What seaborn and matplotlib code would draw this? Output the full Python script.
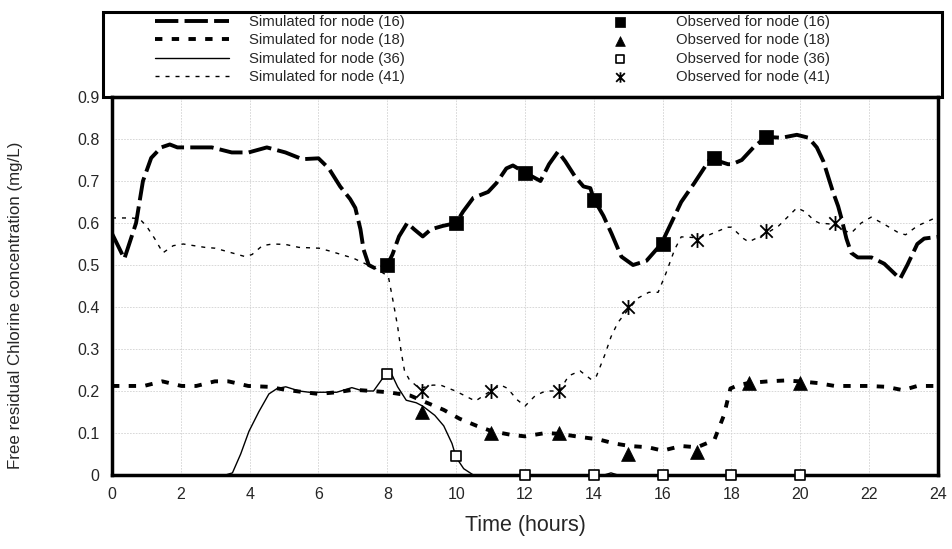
import numpy as np
import pandas as pd
import seaborn as sns
import matplotlib.pyplot as plt
from matplotlib.patches import Rectangle
from matplotlib.path import Path

# ---------------- data ----------------
sim16_t = [0, 0.36, 0.7, 0.9, 1.14, 1.43, 1.68, 1.9, 2.9, 3.48, 3.97, 4.5, 5.04, 5.53, 6.0,
           6.3, 6.63, 6.92, 7.07, 7.22, 7.31, 7.46, 7.7, 8.0, 8.15, 8.34, 8.58, 8.78, 9.03,
           9.27, 9.61, 10.0, 10.2, 10.5, 10.93, 11.17, 11.46, 11.65, 12.0, 12.45, 12.7,
           12.96, 13.17, 13.46, 13.7, 13.9, 14.0, 14.28, 14.52, 14.8, 15.14, 15.53, 15.96,
           16.25, 16.54, 16.92, 17.36, 17.45, 17.9, 18.02, 18.3, 18.64, 19.0, 19.46, 19.9,
           20.24, 20.48, 20.67, 20.8, 20.95, 21.1, 21.2, 21.34, 21.48, 21.67, 22.07, 22.44,
           22.9, 23.11, 23.4, 23.6, 24.0]
sim16_v = [0.575, 0.515, 0.60, 0.70, 0.755, 0.78, 0.787, 0.78, 0.78, 0.768, 0.768, 0.78, 0.768,
           0.752, 0.754, 0.73, 0.687, 0.657, 0.636, 0.585, 0.537, 0.50, 0.49, 0.50, 0.525,
           0.568, 0.60, 0.585, 0.568, 0.585, 0.593, 0.60, 0.627, 0.66, 0.674, 0.695, 0.73,
           0.737, 0.72, 0.70, 0.74, 0.77, 0.747, 0.71, 0.687, 0.683, 0.657, 0.617, 0.574,
           0.52, 0.50, 0.51, 0.55, 0.60, 0.65, 0.695, 0.75, 0.752, 0.74, 0.74, 0.75, 0.78,
           0.805, 0.803, 0.81, 0.803, 0.78, 0.747, 0.713, 0.674, 0.64, 0.61, 0.563, 0.529,
           0.518, 0.518, 0.503, 0.467, 0.50, 0.55, 0.563, 0.567]

sim18_t = [0, 0.93, 1.46, 2.02, 2.45, 2.99, 3.38, 3.96, 4.54, 5.03, 5.6, 6.0, 6.53, 7.02, 7.55,
           8.03, 8.67, 9.15, 9.64, 10.1, 10.6, 11.05, 11.57, 12.0, 12.6, 13.0, 13.65, 14.13,
           14.6, 15.05, 15.58, 16.0, 16.54, 17.0, 17.5, 17.78, 17.97, 18.2, 18.5, 19.07,
           19.55, 19.97, 20.5, 21.0, 21.96, 22.5, 22.98, 23.4, 24.0]
sim18_v = [0.212, 0.212, 0.223, 0.212, 0.212, 0.223, 0.223, 0.212, 0.21, 0.203, 0.197, 0.193,
           0.197, 0.203, 0.20, 0.197, 0.189, 0.172, 0.155, 0.134, 0.117, 0.104, 0.096, 0.092,
           0.10, 0.098, 0.09, 0.085, 0.075, 0.069, 0.066, 0.058, 0.069, 0.066, 0.083, 0.142,
           0.206, 0.214, 0.219, 0.223, 0.225, 0.223, 0.219, 0.212, 0.212, 0.21, 0.202, 0.212,
           0.212]

sim36_t = [0, 3.3, 3.5, 3.74, 3.98, 4.27, 4.56, 4.8, 5.05, 5.44, 5.73, 6.0, 6.53, 6.97, 7.3,
           7.6, 7.95, 8.08, 8.3, 8.55, 8.84, 9.03, 9.38, 9.64, 9.88, 10.0, 10.22, 10.5, 14.3,
           14.5, 14.7, 24.0]
sim36_v = [0.0, 0.0, 0.005, 0.05, 0.104, 0.151, 0.193, 0.206, 0.21, 0.20, 0.197, 0.197, 0.197,
           0.208, 0.20, 0.20, 0.24, 0.248, 0.21, 0.178, 0.172, 0.164, 0.142, 0.117, 0.075,
           0.042, 0.015, 0.0, 0.0, 0.005, 0.0, 0.0]

sim41_t = [0, 0.56, 0.8, 1.0, 1.24, 1.48, 1.78, 2.07, 2.7, 3.0, 3.48, 3.87, 4.07, 4.37, 4.66,
           5.04, 5.43, 6.02, 6.34, 7.02, 7.36, 7.7, 8.03, 8.17, 8.3, 8.4, 8.5, 8.64, 8.93, 9.32,
           9.55, 9.98, 10.56, 11.0, 11.3, 11.5, 11.76, 12.0, 12.3, 12.6, 13.0, 13.27, 13.6,
           13.93, 14.08, 14.32, 14.5, 14.7, 15.03, 15.3, 15.6, 15.87, 16.1, 16.35, 16.54, 17.0,
           17.36, 17.88, 18.0, 18.35, 18.5, 19.03, 19.37, 19.9, 20.14, 20.4, 20.55, 20.95,
           21.34, 21.48, 21.77, 22.06, 22.44, 22.87, 23.06, 23.4, 24.0]
sim41_v = [0.612, 0.612, 0.61, 0.593, 0.563, 0.529, 0.546, 0.55, 0.542, 0.54, 0.529, 0.52,
           0.525, 0.546, 0.55, 0.549, 0.542, 0.54, 0.533, 0.516, 0.503, 0.49, 0.473, 0.413,
           0.354, 0.295, 0.248, 0.227, 0.206, 0.214, 0.214, 0.20, 0.176, 0.20, 0.214, 0.206,
           0.18, 0.164, 0.189, 0.20, 0.20, 0.236, 0.248, 0.227, 0.236, 0.286, 0.329, 0.363,
           0.397, 0.422, 0.435, 0.435, 0.481, 0.537, 0.567, 0.565, 0.572, 0.59, 0.59, 0.563,
           0.555, 0.576, 0.593, 0.636, 0.627, 0.606, 0.60, 0.597, 0.58, 0.576, 0.60, 0.614,
           0.597, 0.576, 0.572, 0.593, 0.615]

obs16_t = [8, 10, 12, 14, 16, 17.5, 19]
obs16_v = [0.50, 0.60, 0.72, 0.655, 0.55, 0.755, 0.805]
obs18_t = [9, 11, 13, 15, 17, 18.5, 20]
obs18_v = [0.15, 0.10, 0.10, 0.05, 0.055, 0.22, 0.22]
obs36_t = [8, 10, 12, 14, 16, 18, 20]
obs36_v = [0.24, 0.045, 0, 0, 0, 0, 0]
obs41_t = [9, 11, 13, 15, 17, 19, 21]
obs41_v = [0.20, 0.20, 0.20, 0.40, 0.56, 0.58, 0.60]

labels_sim = ["Simulated for node (16)", "Simulated for node (18)",
              "Simulated for node (36)", "Simulated for node (41)"]
labels_obs = ["Observed for node (16)", "Observed for node (18)",
              "Observed for node (36)", "Observed for node (41)"]
xticks = list(range(0, 25, 2))
yticks = [0, 0.1, 0.2, 0.3, 0.4, 0.5, 0.6, 0.7, 0.8, 0.9]
ytick_labels = ["0", "0.1", "0.2", "0.3", "0.4", "0.5", "0.6", "0.7", "0.8", "0.9"]

# ---------------- plot ----------------
sns.set_theme(style="white")
plt.rcParams['font.family'] = ['Liberation Sans', 'DejaVu Sans']

fig = plt.figure(figsize=(9.53, 5.49), dpi=100)
ax = fig.add_axes([0.1175, 0.1348, 0.8667, 0.6885])

line_specs = [
    (sim16_t, sim16_v, 2.8, (0, (6.0, 1.6))),
    (sim18_t, sim18_v, 2.8, (0, (1.9, 2.4))),
    (sim36_t, sim36_v, 1.0, '-'),
    (sim41_t, sim41_v, 1.0, (0, (2.9, 4.3))),
]
for (t, v, lw, ls), lab in zip(line_specs, labels_sim):
    sns.lineplot(x=t, y=v, ax=ax, color='black', linewidth=lw, linestyle=ls,
                 label=lab, sort=False, estimator=None, zorder=3)

star = Path([(-1, -1), (1, 1), (-1, 1), (1, -1), (0, -1.2), (0, 1.2)],
            [Path.MOVETO, Path.LINETO, Path.MOVETO, Path.LINETO, Path.MOVETO, Path.LINETO])

sns.scatterplot(x=obs16_t, y=obs16_v, ax=ax, marker='s', s=105, color='black',
                edgecolor='black', linewidth=0.5, label=labels_obs[0], zorder=5, clip_on=False)
sns.scatterplot(x=obs18_t, y=obs18_v, ax=ax, marker='^', s=100, color='black',
                edgecolor='black', linewidth=0.5, label=labels_obs[1], zorder=5, clip_on=False)
sns.scatterplot(x=obs36_t, y=obs36_v, ax=ax, marker='s', s=60, color='white',
                edgecolor='black', linewidth=1.2, label=labels_obs[2], zorder=5, clip_on=False)
sns.scatterplot(x=obs41_t, y=obs41_v, ax=ax, marker=star, s=115, color='black',
                edgecolor='black', linewidth=1.3, label=labels_obs[3], zorder=5, clip_on=False)

if ax.get_legend() is not None:
    ax.get_legend().remove()

ax.set_xlim(0, 24)
ax.set_ylim(0, 0.9)
ax.set_xticks(xticks)
ax.set_xticklabels([str(x) for x in xticks])
ax.set_xticks(range(1, 25, 2), minor=True)
ax.set_yticks(yticks)
ax.set_yticklabels(ytick_labels)
ax.set_yticks(np.arange(0.05, 0.9, 0.1), minor=True)
ax.tick_params(axis='both', which='major', direction='out', length=5, width=1.3,
               labelsize=11.5, color='black', pad=4)
ax.tick_params(axis='both', which='minor', direction='in', length=4, width=1.0, color='black')
ax.grid(True, which='major', color='#d2d2d2', linewidth=0.6, linestyle=(0, (2, 1.5)))
ax.set_axisbelow(True)
for sp in ax.spines.values():
    sp.set_color('black')
    sp.set_linewidth(2.5)

ax.set_xlabel("Time (hours)", fontsize=15.5)
ax.set_ylabel("Free residual Chlorine concentration (mg/L)", fontsize=12.2)
ax.xaxis.set_label_coords(0.5, -0.105)
ax.yaxis.set_label_coords(-0.108, 0.45)

# legend box
W, H = 953, 549
fig.patches.append(Rectangle((103 / W, 1 - 97 / H), (942 - 103) / W, (97 - 12) / H,
                             transform=fig.transFigure, fill=False, edgecolor='black',
                             linewidth=2.2, zorder=10))
handles = list(ax.lines[:4]) + list(ax.collections[:4])
labels = labels_sim + labels_obs
fig.legend(handles, labels, loc='upper left', bbox_to_anchor=(155 / W, 1 - 15 / H),
           bbox_transform=fig.transFigure, ncol=2, frameon=False, fontsize=10.7,
           handlelength=5.0, handletextpad=1.3, columnspacing=12.0, labelspacing=0.3,
           borderpad=0, borderaxespad=0, scatterpoints=1, markerscale=0.7)

fig.savefig("out.png", dpi=100)
